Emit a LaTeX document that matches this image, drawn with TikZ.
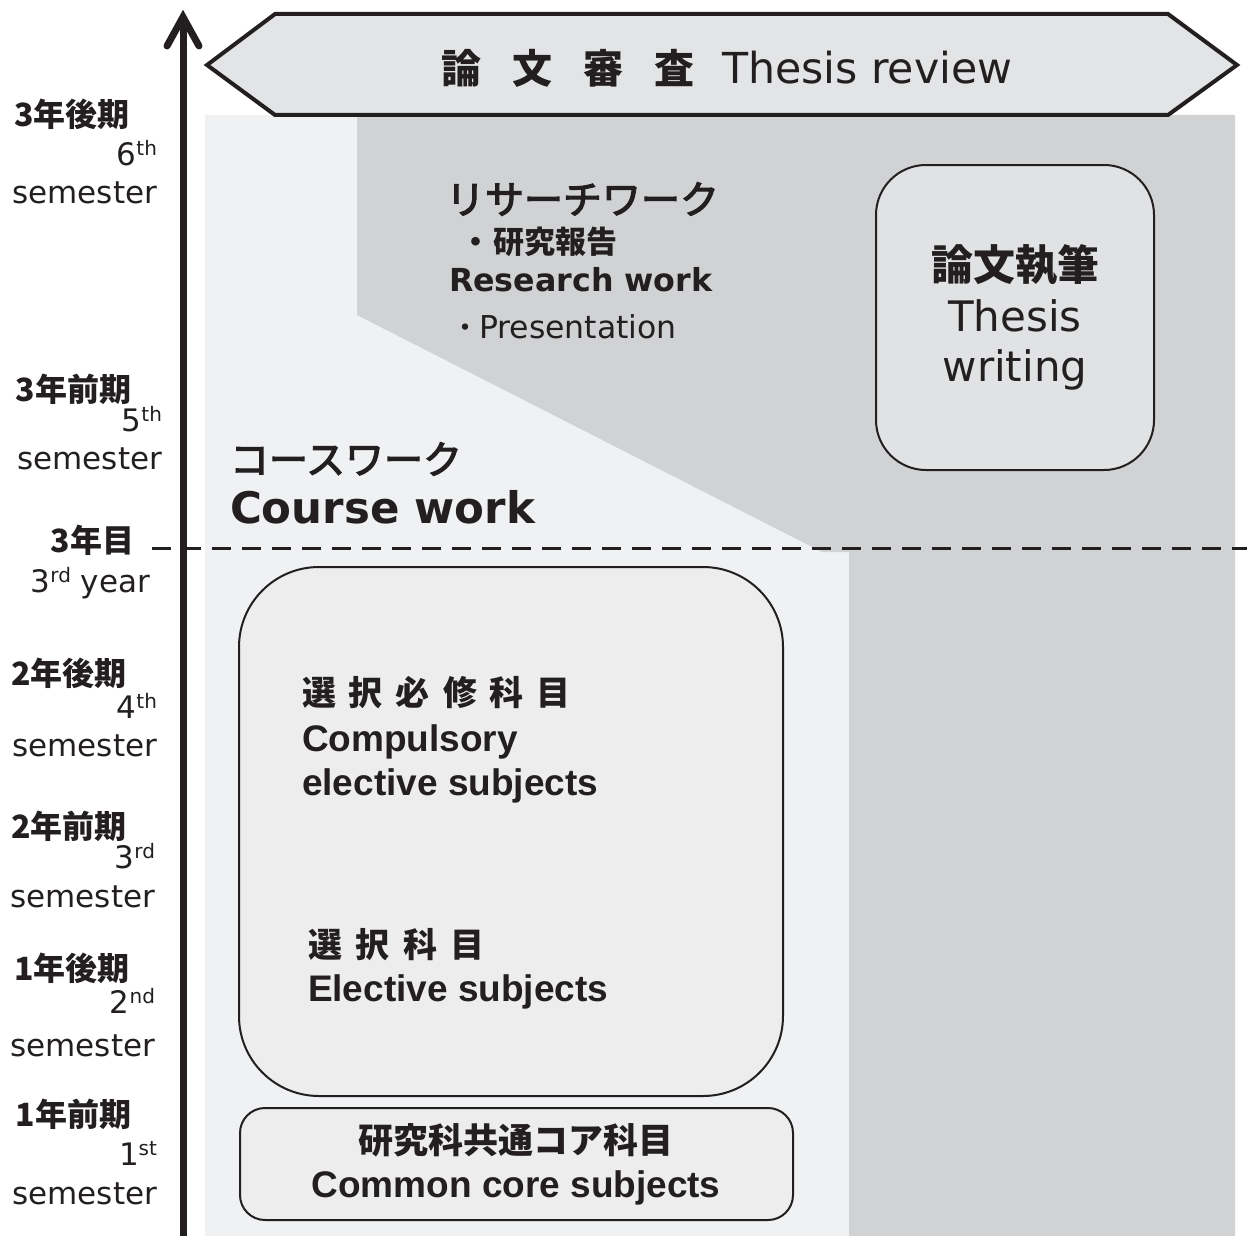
\documentclass[tikz,border=0pt]{standalone}
\usepackage{fontspec}
\setmainfont{DejaVu Sans}
\newfontfamily\jp{Noto Sans CJK JP}
\newfontfamily\jpm[FakeBold=3]{Noto Sans CJK JP}
\newfontfamily\arialf{Liberation Sans}
\definecolor{ink}{HTML}{231F20}
\definecolor{lightbg}{HTML}{F0F1F3}
\definecolor{darkbg}{HTML}{D1D2D4}
\definecolor{bannerfill}{HTML}{E3E4E6}
\definecolor{boxfill}{HTML}{EDEDED}
\definecolor{thesisfill}{HTML}{E1E2E4}
\newcommand\fs[1]{\fontsize{#1}{#1}\selectfont}
\newcommand\ordn[2]{#1\raisebox{10pt}{\fs{20}#2}}
\begin{document}
\begin{tikzpicture}[x=1pt,y=-1pt,
  txt/.style={inner sep=0pt, outer sep=0pt, text=ink},
  jplab/.style={txt, anchor=west, font=\jp\bfseries\fs{32}},
  ordlab/.style={txt, anchor=base east, font=\fs{31}},
  semlab/.style={txt, anchor=base east, font=\fs{31}},
  subjbox/.style={draw=ink, line width=2pt, fill=boxfill, inner sep=0pt},
]
\useasboundingbox (0,0) rectangle (1247,1236);
% backgrounds
\fill[lightbg] (205,115) rectangle (849,1236);
\fill[darkbg] (357,115) -- (1235,115) -- (1235,1236) -- (849,1236) -- (849,552) -- (822,552) -- (357,315) -- cycle;
% banner
\draw[ink, line width=4pt, fill=bannerfill, line join=miter] (207,65) -- (275,14) -- (1168,14) -- (1237,65) -- (1168,115) -- (275,115) -- cycle;
\node[txt, anchor=base west] (banner) at (441,84) {{\jp\bfseries\fs{40}論\hspace{31pt}文\hspace{31pt}審\hspace{31pt}査}\hspace{28pt}{\fs{42.7}Thesis review}};
% dashed line
\coordinate (dashA) at (152,548);
\coordinate (dashB) at (1247,548);
\draw[ink, line width=3pt, dash pattern=on 19pt off 11pt] (dashA) -- (dashB);
% time axis
\coordinate (axisS) at (183,1236);
\coordinate (axisE) at (183,22);
\draw[ink, line width=7pt] (axisS) -- (axisE);
\draw[ink, line width=7pt, line cap=round, line join=miter] (167,46) -- (183,17) -- (199,46);
% boxes
\node[subjbox, rounded corners=50pt, fill=thesisfill, minimum width=278pt, minimum height=305pt] (twbox) at (1015,317.5) {};
\node[subjbox, rounded corners=80pt, minimum width=544pt, minimum height=529pt] (cebox) at (511,831.5) {};
\node[subjbox, rounded corners=25pt, minimum width=553pt, minimum height=112pt] (ccbox) at (516.5,1164) {};
% research work
\node[txt, anchor=west] (rwjp) at (446,199) {\jpm\fs{39}リサーチワーク};
\node[txt, anchor=west] (rwb) at (460,242) {\jp\bfseries\fs{31}・\hspace{3pt}研究報告};
\node[txt, anchor=base west] (rwen) at (449,291) {\bfseries\fs{31.7}Research work};
\node[txt, anchor=base west] (rwp) at (450,338) {{\jp\fs{30}・}\hspace{-1pt}{\fs{31.5}Presentation}};
% thesis writing
\node[txt] (twjp) at (1015,265) {\jp\bfseries\fs{42}論文執筆};
\node[txt, anchor=base] (tw1) at (1015,331) {\fs{42}Thesis};
\node[txt, anchor=base] (tw2) at (1015,381) {\fs{42}writing};
% course work
\node[txt, anchor=west] (cwjp) at (230,459) {\jpm\fs{39}コースワーク};
\node[txt, anchor=base west] (cwen) at (230,523) {\bfseries\fs{43.5}Course work};
% compulsory elective
\node[txt, anchor=west] (cejp) at (302,693) {\jp\bfseries\fs{34}選\hspace{13pt}択\hspace{13pt}必\hspace{13pt}修\hspace{13pt}科\hspace{13pt}目};
\node[txt, anchor=base west] (ce1) at (302,751) {\arialf\bfseries\fs{37}Compulsory};
\node[txt, anchor=base west] (ce2) at (302,795) {\arialf\bfseries\fs{37}elective subjects};
\node[txt, anchor=west] (eljp) at (308,945) {\jp\bfseries\fs{34}選\hspace{13.5pt}択\hspace{13.5pt}科\hspace{13.5pt}目};
\node[txt, anchor=base west] (el1) at (308,1001) {\arialf\bfseries\fs{37}Elective subjects};
% common core
\node[txt] (ccjp) at (516,1140) {\jp\bfseries\fs{35}研究科共通コア科目};
\node[txt, anchor=base] (cc1) at (516,1197) {\arialf\bfseries\fs{37}Common core subjects};
% left labels
\node[jplab] (g1j) at (14,114) {3年後期};
\node[ordlab] (g1o) at (157,165) {\ordn{6}{th}};
\node[semlab] (g1s) at (157,203) {semester};
\node[jplab] (g2j) at (16,389) {3年前期};
\node[ordlab] (g2o) at (162,431) {\ordn{5}{th}};
\node[semlab] (g2s) at (162,469) {semester};
\node[txt, anchor=east, font=\jp\bfseries\fs{32}] (g3j) at (134,540) {3年目};
\node[ordlab] (g3o) at (150,592) {\ordn{3}{rd} year};
\node[jplab] (g4j) at (11,673) {2年後期};
\node[ordlab] (g4o) at (157,718) {\ordn{4}{th}};
\node[semlab] (g4s) at (157,756) {semester};
\node[jplab] (g5j) at (11,826) {2年前期};
\node[ordlab] (g5o) at (155,868) {\ordn{3}{rd}};
\node[semlab] (g5s) at (155,907) {semester};
\node[jplab] (g6j) at (14,968) {1年後期};
\node[ordlab] (g6o) at (155,1013) {\ordn{2}{nd}};
\node[semlab] (g6s) at (155,1056) {semester};
\node[jplab] (g7j) at (16,1114) {1年前期};
\node[ordlab] (g7o) at (157,1165) {\ordn{1}{st}};
\node[semlab] (g7s) at (157,1204) {semester};
\end{tikzpicture}
\end{document}
